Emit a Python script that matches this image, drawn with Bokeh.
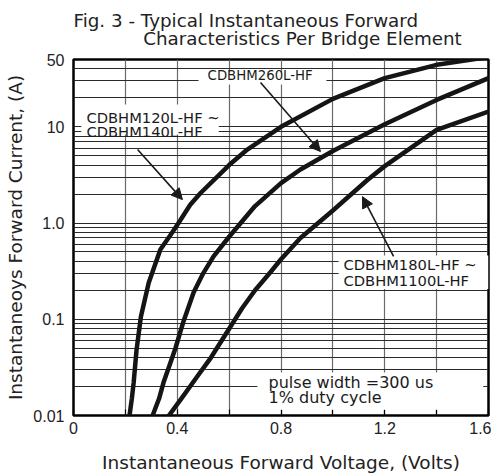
from bokeh.plotting import figure
from bokeh.models import Range1d, FixedTicker, Label, Arrow, NormalHead, BoxAnnotation, Title
from bokeh.embed import file_html
from bokeh.resources import INLINE

# ---- data ----
v_120_140 = [0.216, 0.225, 0.232, 0.243, 0.26, 0.29, 0.335, 0.374, 0.405, 0.45, 0.49, 0.6, 0.67, 0.8, 1.0, 1.2, 1.4, 1.6]
i_120_140 = [0.01, 0.015, 0.022, 0.048, 0.107, 0.24, 0.53, 0.75, 1.0, 1.55, 2.05, 4.0, 5.8, 10.0, 19.5, 32.0, 44.0, 53.0]

v_260 = [0.305, 0.33, 0.347, 0.37, 0.393, 0.424, 0.463, 0.5, 0.54, 0.6, 0.7, 0.8, 0.875, 1.0, 1.2, 1.4, 1.6]
i_260 = [0.01, 0.015, 0.022, 0.033, 0.05, 0.095, 0.19, 0.3, 0.45, 0.72, 1.5, 2.6, 3.6, 5.6, 10.6, 19.0, 32.0]

v_180_1100 = [0.368, 0.42, 0.475, 0.53, 0.594, 0.65, 0.7, 0.76, 0.8, 0.875, 1.0, 1.133, 1.2, 1.4, 1.6]
i_180_1100 = [0.01, 0.0155, 0.025, 0.04, 0.075, 0.13, 0.2, 0.31, 0.42, 0.7, 1.35, 2.8, 3.9, 9.3, 14.4]

x_ticks = [0, 0.4, 0.8, 1.2, 1.6]
x_tick_labels = ["0", "0.4", "0.8", "1.2", "1.6"]
x_minor = [0.2, 0.6, 1.0, 1.4]
x_grid = [0.2, 0.4, 0.6, 0.8, 1.0, 1.2, 1.4]
y_ticks = [0.01, 0.1, 1, 10, 50]
y_tick_labels = ["0.01", "0.1", "1.0", "10", "50"]
y_grid = [m * d for d in (0.01, 0.1, 1, 10) for m in range(2, 10)] + [0.1, 1, 10]

title_lines = ["Fig. 3 - Typical Instantaneous Forward", "Characteristics Per Bridge Element"]
x_label = "Instantaneous Forward Voltage, (Volts)"
y_label = "Instantaneoys Forward Current, (A)"

FONT = "DejaVu Sans"
TICKFONT = "Liberation Sans"

p = figure(width=491, height=475, x_range=Range1d(0, 1.6), y_range=Range1d(0.01, 50),
           y_axis_type="log", output_backend="svg", toolbar_location=None,
           min_border_left=73, min_border_right=3, min_border_top=59, min_border_bottom=59)
p.background_fill_color = "white"
p.border_fill_color = "white"
p.outline_line_color = "black"
p.outline_line_width = 2.5

# title (two lines, second indented)
p.title = Title(text=title_lines[0] + "\n" + "\u00a0" * 12 + title_lines[1],
                align="left", vertical_align="top", text_font=FONT, text_font_size="18.3px",
                text_font_style="normal", text_color="#222222",
                text_line_height=0.86, standoff=17)

# grids
p.xgrid.ticker = FixedTicker(ticks=x_grid)
p.xgrid.grid_line_color = "#6a6a6a"
p.xgrid.grid_line_width = 1.2
p.ygrid.ticker = FixedTicker(ticks=y_grid)
p.ygrid.grid_line_color = "#2a2a2a"
p.ygrid.grid_line_width = 1

# axes
xa = p.xaxis[0]
xa.ticker = FixedTicker(ticks=x_ticks, minor_ticks=x_minor)
xa.major_label_overrides = {t: l for t, l in zip(x_ticks, x_tick_labels)}
xa.axis_line_color = None
xa.major_tick_in = 6
xa.major_tick_out = 0
xa.minor_tick_in = 6
xa.minor_tick_out = 0
xa.major_tick_line_color = "black"
xa.minor_tick_line_color = "black"
xa.major_tick_line_width = 1.2
xa.minor_tick_line_width = 1.2
xa.major_label_text_font = TICKFONT
xa.major_label_text_font_size = "16px"
xa.major_label_text_color = "#222222"
xa.major_label_standoff = 6
xa.axis_label = x_label
xa.axis_label_text_font = FONT
xa.axis_label_text_font_size = "18.5px"
xa.axis_label_text_font_style = "normal"
xa.axis_label_text_color = "#222222"
xa.axis_label_standoff = 15

ya = p.yaxis[0]
ya.ticker = FixedTicker(ticks=y_ticks)
ya.major_label_overrides = {t: l for t, l in zip(y_ticks, y_tick_labels)}
ya.axis_line_color = None
ya.major_tick_in = 0
ya.major_tick_out = 0
ya.minor_tick_in = 0
ya.minor_tick_out = 0
ya.major_label_text_font = TICKFONT
ya.major_label_text_font_size = "16px"
ya.major_label_text_color = "#222222"
ya.major_label_standoff = 9
ya.axis_label = y_label
ya.axis_label_text_font = FONT
ya.axis_label_text_font_size = "18.5px"
ya.axis_label_text_font_style = "normal"
ya.axis_label_text_color = "#222222"
ya.axis_label_standoff = 4

# curves
for v, i in ((v_120_140, i_120_140), (v_260, i_260), (v_180_1100, i_180_1100)):
    p.line(v, i, line_width=4.5, line_color="#151515", line_join="round", line_cap="round")

# white boxes behind annotation text
for l, r, b, t in ((0.482, 0.975, 27.5, 36.7), (0.03, 0.56, 8.32, 17.0),
                   (1.022, 1.6, 0.206, 0.459), (0.709, 1.58, 0.0115, 0.0279)):
    p.add_layout(BoxAnnotation(left=l, right=r, bottom=b, top=t, fill_color="white",
                               fill_alpha=1.0, line_color=None))

# annotation texts
ann = [
    (0.517, 34.0, "CDBHM260L-HF", "13.3px"),
    (0.05, 12.5, "CDBHM120L-HF ~", "14.7px"),
    (0.05, 8.93, "CDBHM140L-HF", "14.7px"),
    (1.041, 0.371, "CDBHM180L-HF ~", "14.7px"),
    (1.041, 0.252, "CDBHM1100L-HF", "14.7px"),
    (0.752, 0.022, "pulse width =300 us", "16px"),
    (0.752, 0.01535, "1% duty cycle", "16px"),
]
for x, y, t, fs in ann:
    p.add_layout(Label(x=x, y=y, text=t, text_font=FONT, text_font_size=fs,
                       text_color="#1a1a1a", text_align="left", text_baseline="middle"))

# arrows
for xs, ys, xe, ye in ((0.247, 5.81, 0.42, 1.75), (0.721, 28.9, 0.952, 5.53), (1.234, 0.449, 1.114, 1.88)):
    p.add_layout(Arrow(end=NormalHead(size=11, fill_color="#1a1a1a", line_color="#1a1a1a"),
                       x_start=xs, y_start=ys, x_end=xe, y_end=ye,
                       line_width=1.6, line_color="#1a1a1a"))

open("out.html", "w").write(file_html(p, INLINE))
